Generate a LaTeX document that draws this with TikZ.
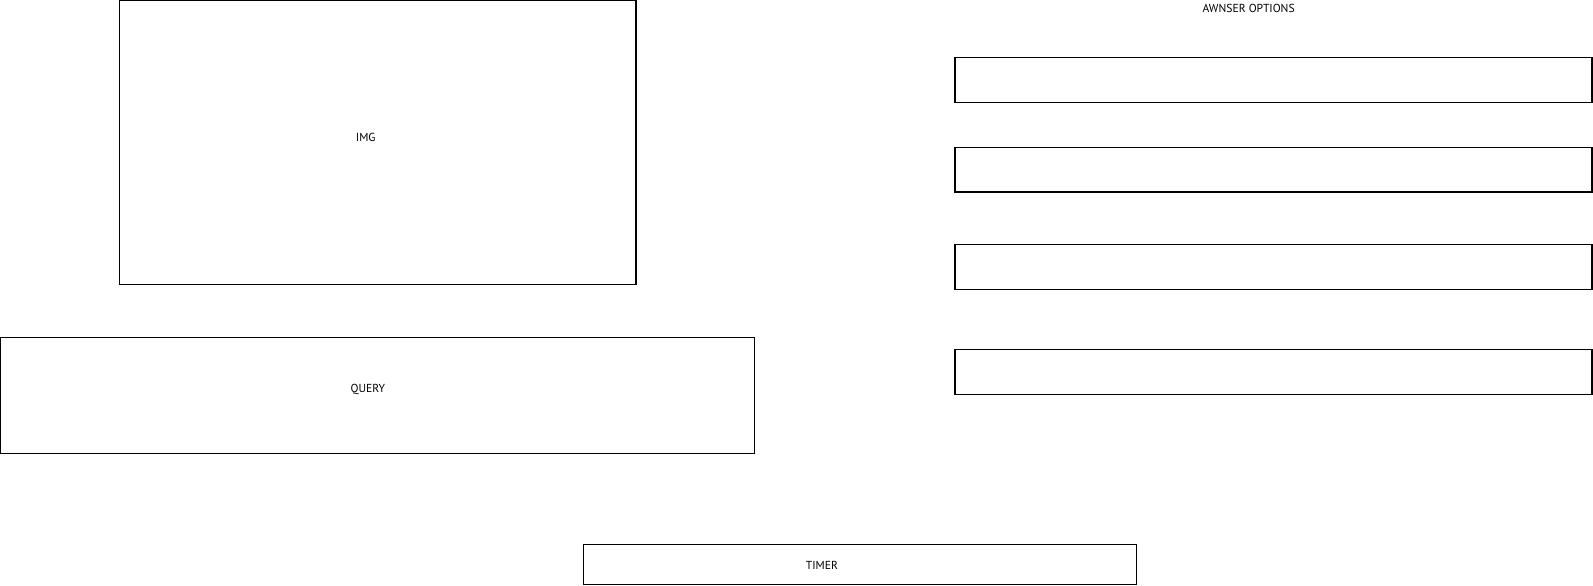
\documentclass[tikz,border=0pt]{standalone}
\usepackage{fontspec}
\setmainfont{PT Sans}
\begin{document}
\begin{tikzpicture}[x=1.016pt,y=-1.016pt,
  box/.style={draw=black,line width=1.1pt,fill=none},
  lbl/.style={inner sep=0pt,font=\fontsize{11.6}{13}\selectfont}]
\useasboundingbox (0,0) rectangle (1568,576.8);
\draw[box] (118,0.6) rectangle (626,280);
\node[lbl] (img) at (360,135) {IMG};
\draw[box] (0.6,332) rectangle (743,446);
\node[lbl] (query) at (362,383) {QUERY};
\node[lbl] (ans) at (1229,8) {AWNSER OPTIONS};
\foreach \t/\b [count=\i] in {57/101,145/189,241/285,344/388}{
  \draw[box] (940,\t) rectangle (1567,\b) coordinate (opt\i);
}
\draw[box] (574,536) rectangle (1119,575);
\node[lbl] (timer) at (809,557) {TIMER};
\end{tikzpicture}
\end{document}
